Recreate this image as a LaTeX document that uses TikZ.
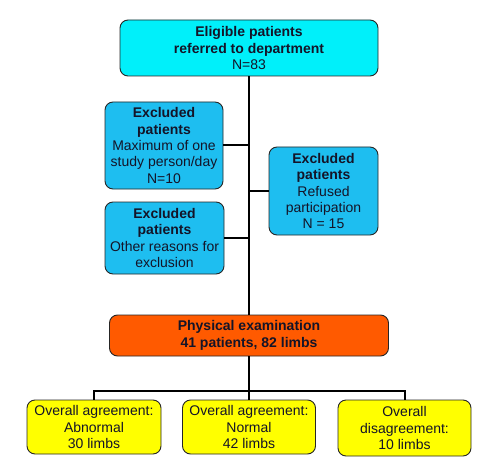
\documentclass[tikz,border=0pt]{standalone}
\usepackage{fontspec}
\setmainfont{Liberation Sans}
\definecolor{topcyan}{RGB}{0,240,250}
\definecolor{exblue}{RGB}{30,190,240}
\definecolor{physorange}{RGB}{255,90,0}
\definecolor{resyellow}{RGB}{255,255,0}
\definecolor{txt}{RGB}{20,20,40}
\begin{document}
\begin{tikzpicture}[x=1pt,y=-1pt,
  box/.style={draw=black!85, line width=0.9pt, rounded corners=8pt, align=center,
    text=txt, inner sep=1pt, font=\fontsize{14}{16.3}\selectfont},
  link/.style={line width=2pt, black}]
\useasboundingbox (0,0) rectangle (489,473);
\node[box, fill=topcyan, minimum width=258pt, minimum height=56pt] (top) at (249,48)
  {\textbf{Eligible patients}\\\textbf{referred to department}\\N=83};
\node[box, fill=exblue, minimum width=118pt, minimum height=87pt] (left1) at (164,145.5)
  {\textbf{Excluded}\\\textbf{patients}\\Maximum of one\\study person/day\\N=10};
\node[box, fill=exblue, minimum width=109pt, minimum height=88pt] (right) at (323.5,191)
  {\textbf{Excluded}\\\textbf{patients}\\Refused\\participation\\N = 15};
\node[box, fill=exblue, minimum width=119pt, minimum height=72pt] (left2) at (164.5,238)
  {\textbf{Excluded}\\\textbf{patients}\\Other reasons for\\exclusion};
\node[box, fill=physorange, minimum width=279pt, minimum height=41pt] (phys) at (249,335.5)
  {\textbf{Physical examination}\\\textbf{41 patients, 82 limbs}};
\node[box, fill=resyellow, minimum width=134pt, minimum height=54pt] (y1) at (94,427)
  {Overall agreement:\\Abnormal\\30 limbs};
\node[box, fill=resyellow, minimum width=133pt, minimum height=54pt] (y2) at (249,427)
  {Overall agreement:\\Normal\\42 limbs};
\node[box, fill=resyellow, minimum width=133pt, minimum height=56pt] (y3) at (404.5,428)
  {Overall\\disagreement:\\10 limbs};
\coordinate (bus) at (249,391);
\draw[link] (top.south) -- (phys.north);
\draw[link] (left1.east) -- (left1.east -| top.south);
\draw[link] (left2.east) -- (left2.east -| top.south);
\draw[link] (right.west) -- (right.west -| top.south);
\draw[link] (phys.south) -- (bus);
\draw[link] (y1.north) -- (y1.north |- bus) -- (y3.north |- bus) -- (y3.north);
\draw[link] (bus) -- (y2.north);
\end{tikzpicture}
\end{document}
